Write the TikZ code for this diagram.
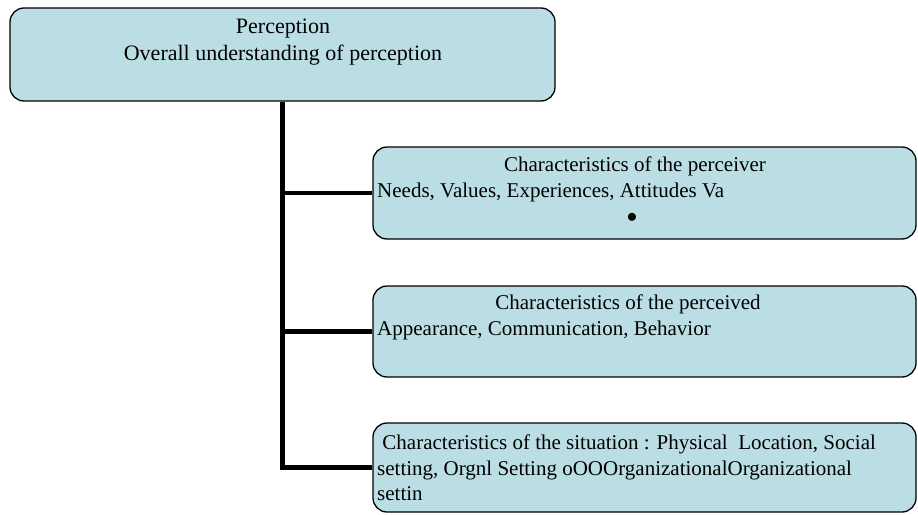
\documentclass[tikz,border=0pt]{standalone}
\usepackage{fontspec}
\setmainfont{Liberation Serif}
\usetikzlibrary{positioning}

\definecolor{boxfill}{RGB}{187,222,228}

\tikzset{
    box/.style={draw, line width=1.3pt, fill=boxfill, rounded corners=14pt, inner sep=0pt},
    txt/.style={inner sep=0pt, font=\fontsize{21}{25.5}\selectfont},
    bigtxt/.style={inner sep=0pt, font=\fontsize{22}{26}\selectfont},
    trunk/.style={line width=4.5pt},
}

\begin{document}
\begin{tikzpicture}[x=1pt, y=-1pt]
        \useasboundingbox (0, 0) rectangle (918, 514);
        % boxes
        \node[box, minimum width=545pt, minimum height=93pt] (top) at (282.5, 54.5) {};
        \node[box, minimum width=543pt, minimum height=92pt] (b1) at (644.5, 193) {};
        \node[box, minimum width=543pt, minimum height=91pt] (b2) at (644.5, 331.5) {};
        \node[box, minimum width=543pt, minimum height=89pt] (b3) at (644.5, 467.5) {};
        % texts
        \node[bigtxt] (tTitle) at (283, 29) {Perception};
        \node[bigtxt] (tSub) at (283, 55) {Overall understanding of perception};
        \node[txt] (tA) at (635, 166) {Characteristics of the perceiver};
        \node[txt, anchor=west] (tB) at (377, 192) {Needs, Values, Experiences, Attitudes Va};
        \node[txt] (tDot) at (632, 218) {$\bullet$};
        \node[txt] (tC) at (628, 304) {Characteristics of the perceived};
        \node[txt, anchor=west] (tD) at (377, 330) {Appearance, Communication, Behavior};
        \node[txt, anchor=west, align=left] (tE) at (377, 468)
            {\ Characteristics of the situation : Physical\ \ Location, Social\\
             setting, Orgnl Setting oOOOrganizationalOrganizational\\
             settin};
        % connectors
        \draw[trunk] (top.south) -- (top.south |- b3.west) -- (b3.west);
        \draw[trunk] (top.south |- b1.west) -- (b1.west);
        \draw[trunk] (top.south |- b2.west) -- (b2.west);
    \end{tikzpicture}
\end{document}
